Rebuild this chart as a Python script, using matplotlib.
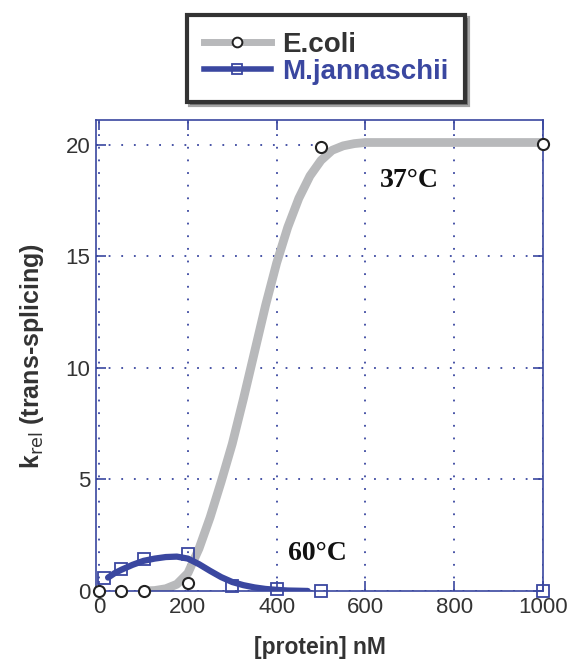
import matplotlib
matplotlib.use("Agg")
from matplotlib import pyplot as plt
from matplotlib.lines import Line2D

# measured points
ecoli_x = [0, 50, 100, 200, 500, 1000]
ecoli_y = [0.0, 0.0, 0.0, 0.35, 19.9, 20.05]
mj_x = [10, 50, 100, 200, 300, 400, 500, 1000]
mj_y = [0.6, 1.0, 1.45, 1.65, 0.2, 0.1, 0.0, 0.0]

# fitted curves
ecoli_fit_x = [100, 125, 150, 175, 200, 225, 250, 275, 300, 325, 350, 375, 400,
               425, 450, 475, 500, 525, 550, 575, 600, 1000]
ecoli_fit_y = [0.0, 0.02, 0.1, 0.3, 0.8, 1.9, 3.3, 4.9, 6.6, 8.6, 10.7, 12.8, 14.7,
               16.3, 17.6, 18.6, 19.3, 19.75, 19.95, 20.05, 20.1, 20.1]
mj_fit_x = [20, 35, 50, 75, 100, 125, 150, 175, 200, 225, 250, 275, 300, 325, 350,
            375, 400, 425, 450, 470]
mj_fit_y = [0.6, 0.8, 0.95, 1.17, 1.35, 1.45, 1.52, 1.54, 1.45, 1.2, 0.9, 0.62, 0.4,
            0.26, 0.16, 0.09, 0.05, 0.02, 0.01, 0.0]

blue = '#3a47a0'
gray = '#b8b9bb'
txt = '#333333'

plt.rcParams['font.family'] = ['Liberation Sans', 'DejaVu Sans']

fig = plt.figure(figsize=(5.72, 6.64), dpi=100)
ax = fig.add_axes([0.168, 0.110, 0.781, 0.709])

ax.plot(ecoli_fit_x, ecoli_fit_y, color=gray, lw=6.3, solid_capstyle='butt',
        solid_joinstyle='round', zorder=2)
ax.plot(mj_fit_x, mj_fit_y, color=blue, lw=4.5, solid_capstyle='round',
        solid_joinstyle='round', zorder=3)
ax.plot(ecoli_x, ecoli_y, 'o', ms=8, mfc='white', mec='#222222', mew=1.5, clip_on=False, zorder=5)
ax.plot(mj_x, mj_y, 's', ms=9, mfc='none', mec=blue, mew=1.3, clip_on=False, zorder=5)

ax.set_xlim(-7, 1000)
ax.set_ylim(0, 21.1)
ax.set_xticks([0, 200, 400, 600, 800, 1000])
ax.set_yticks([0, 5, 10, 15, 20])
ax.grid(True, color=blue, linestyle=(0, (1, 6)), linewidth=1.3)
for s in ax.spines.values():
    s.set_color(blue)
    s.set_linewidth(1.2)
ax.tick_params(direction='in', top=True, right=True, length=7, width=1.2,
               color=blue, labelsize=16, labelcolor=txt, pad=4)

ax.set_xlabel('[protein] nM', fontsize=16.5, fontweight='bold', color=txt, labelpad=13)
ax.set_ylabel(r'k$_{\rm rel}$ (trans-splicing)', fontsize=18, fontweight='bold',
              color=txt, labelpad=14)

ax.text(700, 18.4, '37°C', family='Liberation Serif', fontweight='bold', fontsize=20,
        ha='center', va='center', color='#111111')
ax.text(493, 1.7, '60°C', family='Liberation Serif', fontweight='bold', fontsize=20,
        ha='center', va='center', color='#111111')

handles = [
    Line2D([], [], color=gray, lw=5, marker='o', ms=7, mfc='white', mec='#222222', mew=1.4),
    Line2D([], [], color=blue, lw=4, marker='s', ms=7, mfc='none', mec=blue, mew=1.3),
]
leg = fig.legend(handles, ['E.coli', 'M.jannaschii'], loc='center',
                 bbox_to_anchor=(0.57, 0.912), frameon=True, fancybox=False,
                 shadow=True, handlelength=2.4, handletextpad=0.4,
                 borderpad=0.6, labelspacing=0.05,
                 prop={'size': 20, 'weight': 'bold'})
leg.get_frame().set_edgecolor('#333333')
leg.get_frame().set_linewidth(3)
leg.get_texts()[0].set_color(txt)
leg.get_texts()[1].set_color(blue)

fig.savefig('out.png', dpi=100)
